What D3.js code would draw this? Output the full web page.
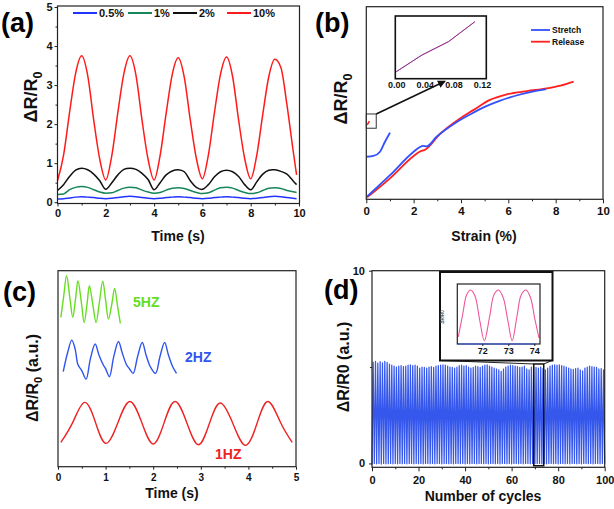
<!DOCTYPE html>
<html><head><meta charset="utf-8">
<script src="https://cdn.jsdelivr.net/npm/d3@7"></script>
<style>
body{margin:0;background:#fff;}
svg{display:block;font-family:"Liberation Sans",Arial,sans-serif;font-weight:bold;}
</style></head><body>
<svg id="c" width="614" height="509"></svg>
<script>
// ---------- Panel (a) ----------
const timeA = [0,0.25,0.5,0.75,1,1.25,1.5,1.75,2,2.25,2.5,2.75,3,3.25,3.5,3.75,4,4.25,4.5,4.75,5,5.25,5.5,5.75,6,6.25,6.5,6.75,7,7.25,7.5,7.75,8,8.25,8.5,8.75,9,9.25,9.5,9.75,9.9];
const strain10 = [0.55,1.2,2.3,3.3,3.75,3.25,2.1,1.1,0.57, 1.2,2.3,3.3,3.75,3.25,2.1,1.1,0.57, 1.2,2.28,3.27,3.7,3.2,2.1,1.12,0.6, 1.22,2.3,3.28,3.72,3.22,2.1,1.12,0.6, 1.2,2.25,3.22,3.66,3.45,2.5,1.35,0.7];
const strain2 = [0.30,0.45,0.66,0.82,0.87,0.83,0.72,0.55,0.33, 0.5,0.7,0.84,0.87,0.84,0.74,0.58,0.32, 0.5,0.7,0.8,0.83,0.78,0.55,0.38,0.33, 0.45,0.65,0.78,0.82,0.78,0.66,0.45,0.32, 0.52,0.72,0.82,0.83,0.79,0.72,0.55,0.45];
const strain1 = [0.2,0.21,0.32,0.38,0.4,0.38,0.32,0.26,0.23, 0.24,0.3,0.36,0.38,0.37,0.31,0.26,0.23, 0.25,0.31,0.36,0.37,0.35,0.3,0.25,0.22, 0.24,0.31,0.37,0.38,0.36,0.3,0.25,0.22, 0.24,0.3,0.36,0.37,0.35,0.3,0.27,0.25];
const strain05 = [0.08,0.09,0.11,0.13,0.14,0.13,0.12,0.1,0.09, 0.1,0.12,0.14,0.15,0.14,0.12,0.1,0.09, 0.1,0.12,0.13,0.14,0.13,0.12,0.1,0.09, 0.1,0.12,0.13,0.14,0.13,0.12,0.1,0.09, 0.1,0.12,0.14,0.15,0.14,0.12,0.1,0.09];
const legendA = ["0.5%","1%","2%","10%"];
const xTicksA = [0,2,4,6,8,10];
const yTicksA = [0,1,2,3,4,5];

// ---------- Panel (b) ----------
const stretchStrain = [0.03,1.0,2.0,2.25,2.4,2.55,2.97,3.68,4.38,5.0,5.6,6.23,7.07,7.6];
const stretchValue  = [0.014,0.125,0.247,0.27,0.277,0.275,0.325,0.39,0.44,0.48,0.51,0.535,0.56,0.572];
const releaseStrain = [0.03,1.0,2.0,2.25,2.5,3.11,3.96,4.52,5.2,5.94,6.79,7.63,8.2,8.76];
const releaseValue  = [0.01,0.109,0.225,0.247,0.259,0.339,0.42,0.463,0.515,0.545,0.562,0.576,0.59,0.611];
const smallStrain = [0.02,0.3,0.58,0.79,1.0];
const smallValue  = [0.221,0.225,0.247,0.299,0.346];
const stubStrain = [0.04,0.13];
const stubValue  = [0.386,0.406];
const insetStrainB = [0.0,0.036,0.073,0.110];
const insetValueB  = [0.112,0.378,0.59,0.909];
const insetTicksB = [0.00,0.04,0.08,0.12];
const xTicksB = [0,2,4,6,8,10];
const legendB = ["Stretch","Release"];

// ---------- Panel (c) ----------
const t5 = [0.06,0.12,0.18,0.25,0.31,0.37,0.42,0.49,0.55,0.61,0.66,0.73,0.80,0.87,0.94,1.0,1.06,1.13,1.19,1.25,1.31];
const v5 = [0.762,0.87,0.974,0.86,0.762,0.86,0.949,0.84,0.736,0.83,0.923,0.83,0.736,0.84,0.946,0.85,0.753,0.83,0.91,0.82,0.731];
const t2 = [0.11,0.2,0.29,0.36,0.42,0.5,0.59,0.68,0.78,0.86,0.95,1.0,1.08,1.17,1.27,1.35,1.44,1.5,1.58,1.67,1.77,1.85,1.94,2.05,2.14,2.24,2.32,2.41,2.49];
const v2 = [0.485,0.58,0.646,0.6,0.52,0.49,0.447,0.55,0.626,0.57,0.52,0.5,0.459,0.56,0.639,0.58,0.52,0.5,0.476,0.56,0.634,0.57,0.51,0.476,0.56,0.634,0.57,0.51,0.476];
const t1 = [0.06,0.31,0.56,0.79,1.01,1.26,1.51,1.76,2.0,2.23,2.46,2.71,2.95,3.18,3.41,3.68,3.94,4.18,4.41,4.67,4.92];
const v1 = [0.124,0.226,0.328,0.224,0.119,0.226,0.333,0.225,0.116,0.225,0.333,0.222,0.112,0.22,0.325,0.217,0.109,0.22,0.333,0.228,0.124];
const freqLabels = ["5HZ","2HZ","1HZ"];
const xTicksC = [0,1,2,3,4,5];

// ---------- Panel (d) ----------
const cyclePeaks = [5.25,5.3,5.2,5.28,5.22,5.3,5.25,5.15,5.1,5.05,
 5.0,5.05,5.08,5.02,5.05,5.1,5.12,5.08,5.1,5.05,
 4.95,5.0,4.98,4.95,5.0,5.02,4.98,5.05,5.08,5.1,
 5.12,5.1,5.05,5.0,4.98,4.95,5.0,5.08,5.1,5.05,
 5.08,5.0,4.95,4.98,5.05,5.02,4.98,5.05,5.1,5.12,
 5.05,5.0,4.95,4.9,4.85,4.78,4.9,5.0,5.05,5.1,
 5.08,5.05,5.02,4.98,5.0,5.05,4.9,4.85,5.0,5.0,
 4.98,4.95,5.0,4.92,4.85,4.95,5.05,5.1,5.12,5.1,
 5.12,5.08,5.05,5.0,4.95,4.9,4.88,4.92,4.95,4.85,
 4.8,4.95,5.0,5.05,5.02,5.0,4.98,4.9,4.92,4.85];
const cycleTroughs = [-0.05,0,-0.02,0,-0.03,0,-0.02,-0.01,0,-0.02,
 0,-0.02,0,-0.01,0,-0.02,0,0,-0.02,0,
 -0.01,0,-0.02,0,0,-0.01,0,-0.02,0,0,
 -0.02,0,0,-0.01,0,-0.02,0,0,-0.01,0,
 -0.02,0,-0.01,0,0,-0.02,0,0,-0.01,0,
 -0.02,0,0,-0.01,0,-0.02,0,0,-0.01,0,
 -0.02,0,0,-0.01,0,-0.02,0,0,-0.01,0,
 -0.02,0,0,-0.01,0,-0.02,0,0,-0.01,0,
 -0.02,0,0,-0.01,0,-0.02,0,0,-0.01,0,
 -0.02,0,0,-0.01,0,-0.02,0,0,-0.01,0,0];
const insetCycD = [71.08,71.25,71.4,71.55,71.72,71.9,72.08,72.28,72.45,72.62,72.8,72.98,73.15,73.33,73.5,73.68,73.85,74.02,74.18];
const insetValD = [0.12,0.5,0.82,0.9,0.8,0.4,0.055,0.45,0.82,0.9,0.78,0.4,0.055,0.45,0.82,0.9,0.78,0.42,0.1];
const insetTicksD = [72,73,74];
const xTicksD = [0,20,40,60,80,100];
const yTicksD = [0,10];
const zoomRangeD = {c0:69.5, c1:73.8, v0:-0.12, v1:5.16};

// ================= drawing =================
const svg = d3.select("#c");
const FONT = '"Liberation Sans", Arial, sans-serif';

function styleAxis(ax, fs){
  ax.attr("font-family", FONT).attr("font-size", fs).attr("font-weight","bold");
  ax.select(".domain").remove();
  ax.selectAll("line").attr("stroke","#222").attr("stroke-width",1);
  ax.selectAll("text").attr("fill","#111");
}
function xAxis(g, sc, y0, majors, minors, fs, size, pad, fmt){
  const ax = g.append("g").attr("transform",`translate(0,${y0})`)
    .call(d3.axisBottom(sc).tickValues(majors).tickSize(size).tickPadding(pad).tickFormat(fmt || d3.format("d")));
  styleAxis(ax, fs);
  if (minors){
    const mx = g.append("g").attr("transform",`translate(0,${y0})`)
      .call(d3.axisBottom(sc).tickValues(minors).tickSize(2).tickFormat(""));
    styleAxis(mx, fs);
  }
}
function yAxis(g, sc, x0, majors, minors, fs, size, pad){
  const ax = g.append("g").attr("transform",`translate(${x0},0)`)
    .call(d3.axisLeft(sc).tickValues(majors).tickSize(size).tickPadding(pad).tickFormat(d3.format("d")));
  styleAxis(ax, fs);
  if (minors){
    const mx = g.append("g").attr("transform",`translate(${x0},0)`)
      .call(d3.axisLeft(sc).tickValues(minors).tickSize(2).tickFormat(""));
    styleAxis(mx, fs);
  }
}
function box(g, x0, y0, x1, y1, w, col){
  g.append("rect").attr("x",x0).attr("y",y0).attr("width",x1-x0).attr("height",y1-y0)
   .attr("fill","none").attr("stroke",col||"#222").attr("stroke-width",w||1.2);
}
function path(g, xs, ys, sx, sy, color, w, curve){
  const line = d3.line().x(d=>sx(d[0])).y(d=>sy(d[1])).curve(curve || d3.curveMonotoneX);
  g.append("path").datum(xs.map((x,i)=>[x,ys[i]])).attr("d",line)
   .attr("fill","none").attr("stroke",color).attr("stroke-width",w).attr("stroke-linejoin","round");
}
function panelLabel(txt, x, y){
  svg.append("text").attr("x",x).attr("y",y).attr("font-size",27).attr("font-weight","bold")
    .attr("font-family",FONT).attr("fill","#000").text(txt);
}
function title(txt, x, y, fs){
  svg.append("text").attr("x",x).attr("y",y).attr("text-anchor","middle").attr("font-size",fs||14)
    .attr("font-family",FONT).attr("font-weight","bold").attr("fill","#111").text(txt);
}
function yTitle(x, y, fs, sub, tail){
  const t = svg.append("text").attr("transform",`translate(${x},${y}) rotate(-90)`)
    .attr("text-anchor","middle").attr("font-size",fs).attr("font-family",FONT)
    .attr("font-weight","bold").attr("fill","#111");
  if (sub){
    t.append("tspan").text("ΔR/R");
    t.append("tspan").attr("font-size",fs*0.7).attr("dy",fs*0.28).text("0");
    if (tail) t.append("tspan").attr("dy",-fs*0.28).text(tail);
  } else {
    t.text("ΔR/R0" + (tail||""));
  }
}

// ----- (a) -----
{
  const g = svg.append("g");
  const x = d3.scaleLinear([0,10],[57.5,299]);
  const y = d3.scaleLinear([0,5],[202.2,7]);
  path(g, timeA, strain05, x, y, "#2233ff", 1.5);
  path(g, timeA, strain1, x, y, "#17855a", 1.5);
  path(g, timeA, strain2, x, y, "#111", 1.5, d3.curveCatmullRom);
  path(g, timeA, strain10, x, y, "#ff1a1a", 1.5);
  box(g, 57.5, 6, 299.5, 203.5);
  xAxis(g, x, 203.5, xTicksA, [1,3,5,7,9], 11, 3, 3);
  yAxis(g, y, 57.5, yTicksA, [0.5,1.5,2.5,3.5,4.5], 11, 3, 2);
  const cols = ["#2233ff","#17855a","#111","#ff1a1a"];
  const lx = [73,128,173,227];
  legendA.forEach((l,i)=>{
    g.append("line").attr("x1",lx[i]).attr("x2",lx[i]+24).attr("y1",13).attr("y2",13)
     .attr("stroke",cols[i]).attr("stroke-width",2);
    g.append("text").attr("x",lx[i]+26).attr("y",17).attr("font-size",11).attr("font-family",FONT)
     .attr("font-weight","bold").attr("fill","#111").text(l);
  });
  panelLabel("(a)", 1, 32);
  title("Time (s)", 178, 241, 14);
  yTitle(37, 97, 18, true);
}

// ----- (b) -----
{
  const g = svg.append("g");
  const x = d3.scaleLinear([0,10],[366.3,603]);
  const y = d3.scaleLinear([0,1],[199.3,6.7]);
  path(g, releaseStrain, releaseValue, x, y, "#ff2020", 1.8);
  path(g, stretchStrain, stretchValue, x, y, "#3350ff", 1.8);
  path(g, smallStrain, smallValue, x, y, "#3350ff", 1.8);
  path(g, stubStrain, stubValue, x, y, "#ff2020", 1.5, d3.curveLinear);
  box(g, 366.3, 6.7, 603, 199.3);
  xAxis(g, x, 199.3, xTicksB, [1,3,5,7,9], 11.5, 4, 4);
  const zx0 = x(0), zx1 = x(0.42), zy0 = y(0.443), zy1 = y(0.369);
  g.append("rect").attr("x",zx0).attr("y",zy0).attr("width",zx1-zx0).attr("height",zy1-zy0)
   .attr("fill","none").attr("stroke","#333").attr("stroke-width",1);
  const xi = d3.scaleLinear([0,0.12],[396.3,482]);
  const yi = d3.scaleLinear([0,1],[78.7,16]);
  box(g, 395.3, 16, 486.3, 78.7, 1.6, "#111");
  path(g, insetStrainB, insetValueB, xi, yi, "#3350ff", 1, d3.curveLinear);
  path(g, insetStrainB, insetValueB, xi, yi, "rgba(220,30,60,0.7)", 1, d3.curveLinear);
  xAxis(g, xi, 78.7, insetTicksB, null, 9, 0, 3, d3.format(".2f"));
  const defs = svg.append("defs");
  defs.append("marker").attr("id","ah").attr("viewBox","0 0 10 10").attr("refX",8).attr("refY",5)
    .attr("markerWidth",5).attr("markerHeight",5).attr("orient","auto")
    .append("path").attr("d","M0,0 L10,5 L0,10 z").attr("fill","#111");
  g.append("line").attr("x1",zx1).attr("y1",zy0).attr("x2",444.5).attr("y2",81.5)
    .attr("stroke","#111").attr("stroke-width",1.6).attr("marker-end","url(#ah)");
  const cols = ["#3350ff","#ff2020"];
  legendB.forEach((l,i)=>{
    const yy = 30 + i*11.7;
    g.append("line").attr("x1",531).attr("x2",550).attr("y1",yy).attr("y2",yy)
     .attr("stroke",cols[i]).attr("stroke-width",1.8);
    g.append("text").attr("x",552).attr("y",yy+3).attr("font-size",8.5).attr("font-family",FONT)
     .attr("font-weight","bold").attr("fill","#111").text(l);
  });
  panelLabel("(b)", 315, 32);
  title("Strain (%)", 484, 241, 14);
  yTitle(347, 99, 18, true);
}

// ----- (c) -----
{
  const g = svg.append("g");
  const x = d3.scaleLinear([0,5],[58,296]);
  const y = d3.scaleLinear([0,1],[466.7,270.7]);
  path(g, t5, v5, x, y, "#66dd22", 1.4, d3.curveCatmullRom);
  path(g, t2, v2, x, y, "#2f55ee", 1.4, d3.curveCatmullRom);
  path(g, t1, v1, x, y, "#ee2222", 1.4, d3.curveNatural);
  box(g, 58, 270.7, 296, 466.7);
  xAxis(g, x, 466.7, xTicksC, [0.5,1.5,2.5,3.5,4.5], 10, 3, 4);
  const lc = ["#66dd22","#2f55ee","#ee2222"];
  const lp = [[133,307],[185,362],[215,459]];
  freqLabels.forEach((l,i)=>{
    g.append("text").attr("x",lp[i][0]).attr("y",lp[i][1]).attr("font-size",14).attr("font-family",FONT)
     .attr("font-weight","bold").attr("fill",lc[i]).text(l);
  });
  panelLabel("(c)", 3, 301);
  title("Time (s)", 172, 498, 14);
  yTitle(38, 378, 16, true, " (a.u.)");
}

// ----- (d) -----
{
  const g = svg.append("g");
  const x = d3.scaleLinear([0,100],[372,604.7]);
  const y = d3.scaleLinear([-0.2,10],[467.3,270.7]);
  const cx = [], cv = [];
  cyclePeaks.forEach((p,i)=>{ cx.push(i, i+0.5); cv.push(cycleTroughs[i], p); });
  cx.push(100); cv.push(cycleTroughs[100]);
  path(g, cx, cv, x, y, "#3557ec", 1.25, d3.curveLinear);
  box(g, 372, 270.7, 604.7, 467.3);
  xAxis(g, x, 467.3, xTicksD, [10,30,50,70,90], 11, 4, 5);
  yAxis(g, y, 372, yTicksD, [5], 11, 3, 4);
  const rx0 = x(zoomRangeD.c0), rx1 = x(zoomRangeD.c1), ry0 = y(zoomRangeD.v1), ry1 = y(zoomRangeD.v0);
  g.append("rect").attr("x",rx0).attr("y",ry0).attr("width",rx1-rx0).attr("height",ry1-ry0)
   .attr("fill","none").attr("stroke","#111").attr("stroke-width",1.5);
  g.append("line").attr("x1",441).attr("y1",360.5).attr("x2",rx0).attr("y2",ry0).attr("stroke","#222").attr("stroke-width",1);
  g.append("line").attr("x1",552).attr("y1",360.5).attr("x2",rx1).attr("y2",ry0).attr("stroke","#222").attr("stroke-width",1);
  g.append("rect").attr("x",440).attr("y",272).attr("width",112.5).attr("height",88.5)
   .attr("fill","#fff").attr("stroke","#111").attr("stroke-width",2);
  const xi = d3.scaleLinear([71.04,74.22],[457.3,540]);
  const yi = d3.scaleLinear([0,1],[344,284]);
  path(g, insetCycD, insetValD, xi, yi, "#f0559a", 1.1, d3.curveCatmullRom);
  box(g, 457.3, 284, 540, 344, 1.2, "#222");
  g.append("line").attr("x1",458).attr("x2",536).attr("y1",344).attr("y2",344).attr("stroke","#3355ee").attr("stroke-width",1.2);
  xAxis(g, xi, 344, insetTicksD, null, 9, 2, 2);
  g.append("text").attr("transform","translate(444,317) rotate(-90)").attr("text-anchor","middle")
   .attr("font-size",4.5).attr("font-family",FONT).attr("fill","#555").text("ΔR/R0");
  panelLabel("(d)", 324, 299);
  title("Number of cycles", 483, 501, 14);
  yTitle(349, 367, 16, false, " (a.u.)");
}
</script>
</body></html>
